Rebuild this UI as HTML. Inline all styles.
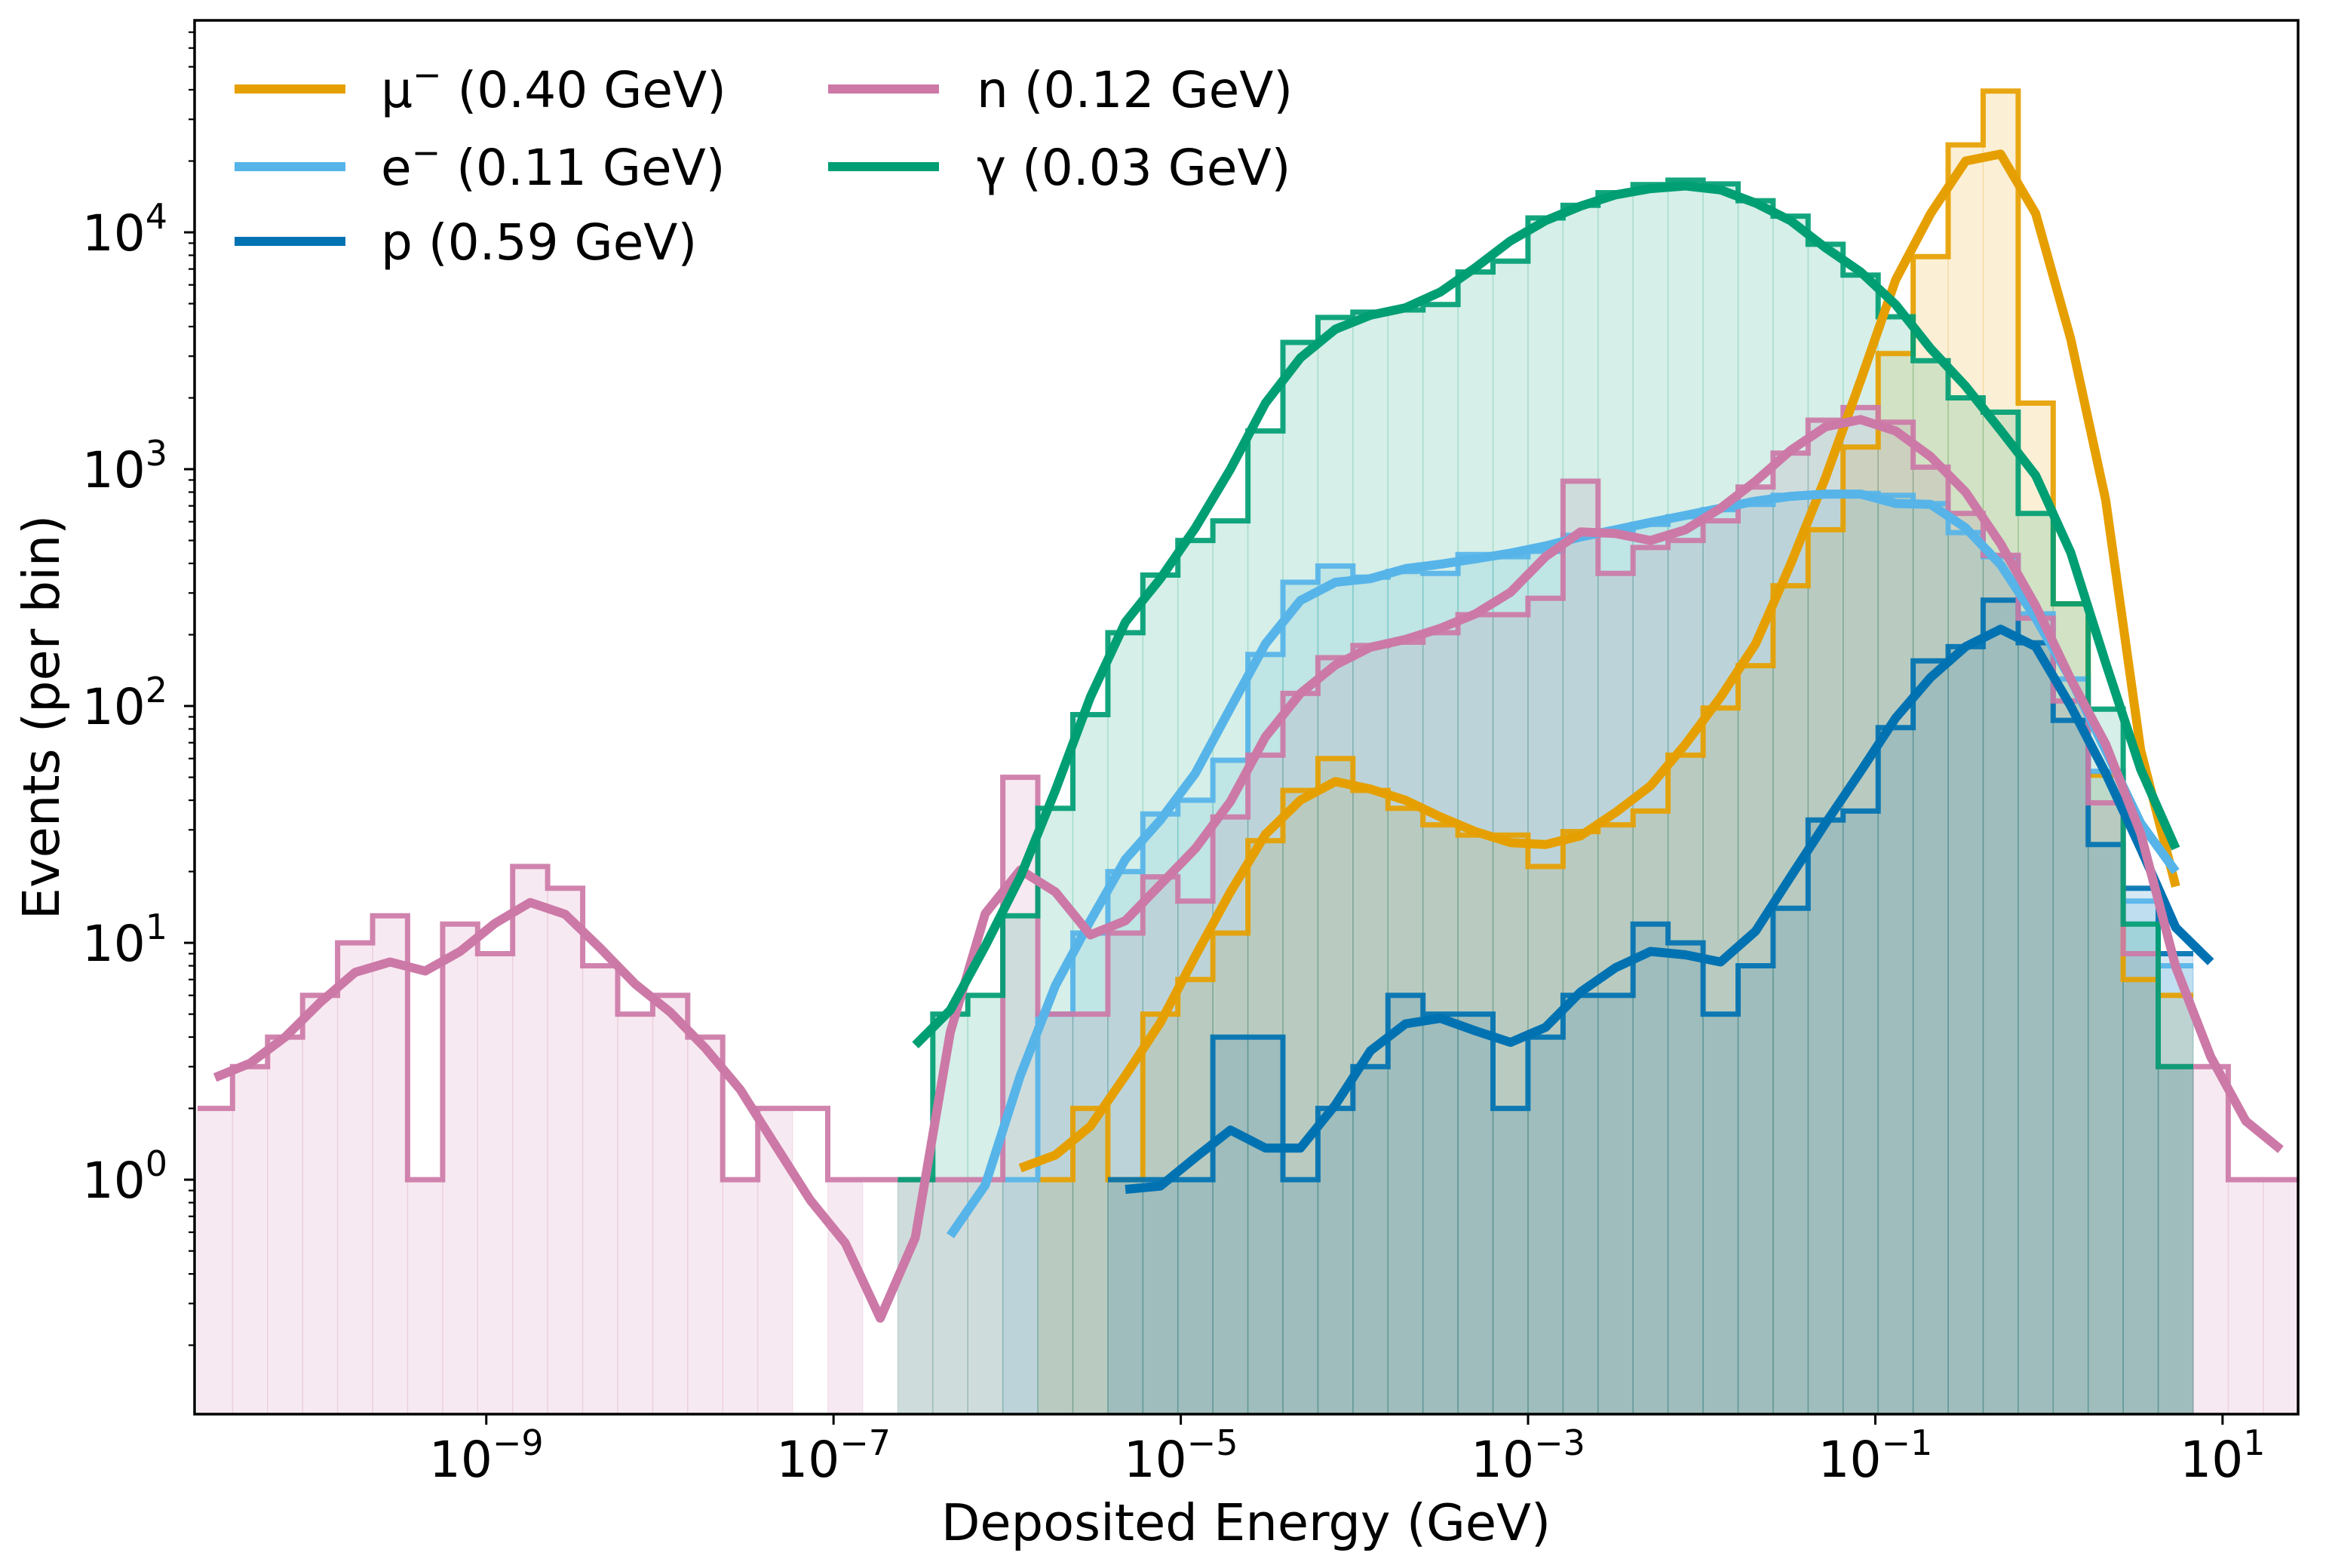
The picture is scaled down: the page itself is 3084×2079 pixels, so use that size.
<!DOCTYPE html>
<html><head><meta charset="utf-8"><style>
html,body{margin:0;padding:0;background:#fff;}
svg{display:block;font-family:"DejaVu Sans","Liberation Sans",sans-serif;}
</style></head><body>
<svg id="chart" width="3084" height="2079" viewBox="0 0 3084 2079" xmlns="http://www.w3.org/2000/svg">
<defs><clipPath id="plotclip"><rect x="258" y="27" width="2789" height="1848"/></clipPath></defs>
<rect x="0" y="0" width="3084" height="2079" fill="#fff"/>
<g id="fills" clip-path="url(#plotclip)"></g>
<g id="outlines" clip-path="url(#plotclip)"></g>
<g id="lines" clip-path="url(#plotclip)"></g>
<g id="axes"></g>
<g id="legend">
  <g>
    <line x1="311" y1="118" x2="458" y2="118" stroke="#E69F00" stroke-width="12"/>
    <text x="505" y="142" font-size="66">μ<tspan font-size="46" dy="-27">−</tspan><tspan dy="27"> (0.40 GeV)</tspan></text>
  </g>
  <g>
    <line x1="311" y1="221" x2="458" y2="221" stroke="#56B4E9" stroke-width="12"/>
    <text x="505" y="245" font-size="66">e<tspan font-size="46" dy="-27">−</tspan><tspan dy="27"> (0.11 GeV)</tspan></text>
  </g>
  <g>
    <line x1="311" y1="320" x2="458" y2="320" stroke="#0072B2" stroke-width="12"/>
    <text x="505" y="344" font-size="66">p (0.59 GeV)</text>
  </g>
  <g>
    <line x1="1098" y1="118" x2="1245" y2="118" stroke="#CC79A7" stroke-width="12"/>
    <text x="1295" y="142" font-size="66">n (0.12 GeV)</text>
  </g>
  <g>
    <line x1="1098" y1="221" x2="1245" y2="221" stroke="#009E73" stroke-width="12"/>
    <text x="1295" y="245" font-size="66">γ (0.03 GeV)</text>
  </g>
</g>
</svg>
<script>
// ---- data ----
const binStartLog = -10.663;
const binWidthLog = 0.20165;
const xTickExps = [-9, -7, -5, -3, -1, 1];
const yTickExps = [0, 1, 2, 3, 4];

const seriesNames = ["mu", "e", "p", "n", "gamma"];
const muFirstBin = 24;
const muCounts = [1,2,1,5,7,11,27,44,60,44,37,31.5,28.5,28.5,21,29.5,31.5,36,62,98,148,322,555,1240,3080,7900,23400,39500,1900,270,51,7,6];
const eFirstBin = 23;
const eCounts = [1,5,11,20,35,40,59,165,333,390,350,370,363,436,427,450,525,545,585,630,675,710,775,790,790,775,715,540,427,245,130,53,15,8];
const pFirstBin = 26;
const pCounts = [1,1,1,4,4,1,2,3,6,5,5,2,4,6,6,12,10,5,8,14,33,36,81,155,178,280,185,87,26,17,9];
const nFirstBin = 0;
const nCounts = [2,3,4,6,10,13,1,12,9,21,17,8,5,6,4,1,2,2,1,1,1,1,1,50,5,5,11,19,15,34,62,113,160,180,186,204,243,243,285,890,363,467,500,605,840,1170,1610,1820,1580,1020,650,433,235,105,39,9,3,3,1,1];
const nNoFillBins = [17, 19];
const gammaFirstBin = 20;
const gammaCounts = [1,5,6,13,37,92,204,357,500,605,1450,3430,4370,4600,4700,4960,6800,7560,11500,13000,14700,15900,16600,16000,13600,11700,8900,6600,4400,2870,2000,1740,650,270,97,12,3];

const muLineFirst = 23;
const muLine = [1.12,1.27,1.68,2.75,4.6,8.8,16.4,28.7,40,48,44.6,40,34,29.5,26.5,26,28.3,35.5,46,69,109,183,397,922,2370,6300,12000,20000,21400,12000,3550,740,65,17.3];
const eLineFirst = 21;
const eLine = [0.58,0.95,2.75,6.6,12.4,22.5,33,52,98,183,279,333,345,380,397,418,442,474,517,555,596,638,684,733,768,785,785,716,710,565,395,235,130,65,32,20];
const pLineFirst = 26;
const pLine = [0.91,0.94,1.24,1.62,1.36,1.36,2.07,3.5,4.55,4.8,4.25,3.8,4.4,6.2,7.85,9.2,8.9,8.3,11.2,19,32,53,89,132,178,211,178,100,52,25,11.6,8.3];
const nLineFirst = 0;
const nLine = [2.7,3.1,4.0,5.6,7.5,8.3,7.6,9.2,12.1,14.8,13.2,9.5,6.7,5.1,3.6,2.4,1.4,0.82,0.54,0.26,0.57,4.2,13.3,20.3,16.4,10.8,12.4,17.6,25,39.5,74,113,149,177,191,213,245,302,427,543,535,500,555,684,890,1200,1510,1620,1450,1130,800,484,265,130,69,29,7.9,3.3,1.77,1.34];
const gammaLineFirst = 20;
const gammaLine = [3.7,5.2,9.7,19,44,109,226,345,565,1000,1900,2950,3900,4470,4800,5600,7100,9200,11200,12900,14400,15300,15700,15100,13300,11200,8600,6800,4950,3230,2240,1460,940,445,152,54,25];

// ---- scales ----
const PL = 258, PR = 3047, PT = 27, PB = 1875;
const XMIN = -10.68, XMAX = 1.435, YMIN = -0.99, YMAX = 4.895;
function xs(logv){ return PL + (logv - XMIN) / (XMAX - XMIN) * (PR - PL); }
function ys(v){ return PB - (Math.log10(v) - YMIN) / (YMAX - YMIN) * (PB - PT); }
function edge(i){ return binStartLog + i * binWidthLog; }
function center(i){ return binStartLog + (i + 0.5) * binWidthLog; }

const NS = "http://www.w3.org/2000/svg";
function mk(tag, attrs, parent){
  const el = document.createElementNS(NS, tag);
  for (const k in attrs) el.setAttribute(k, attrs[k]);
  parent.appendChild(el);
  return el;
}
const colors = {mu:"#E69F00", e:"#56B4E9", p:"#0072B2", n:"#CC79A7", gamma:"#009E73"};
const hists = {
  mu:[muFirstBin, muCounts], e:[eFirstBin, eCounts], p:[pFirstBin, pCounts],
  n:[nFirstBin, nCounts], gamma:[gammaFirstBin, gammaCounts]
};
const noFill = {mu:[], e:[], p:[], n:nNoFillBins, gamma:[]};
const lineData = {
  mu:[muLineFirst, muLine], e:[eLineFirst, eLine], p:[pLineFirst, pLine],
  n:[nLineFirst, nLine], gamma:[gammaLineFirst, gammaLine]
};

const gF = document.getElementById("fills");
const gO = document.getElementById("outlines");
const gL = document.getElementById("lines");

seriesNames.forEach(function(s){
  const first = hists[s][0], counts = hists[s][1];
  counts.forEach(function(c, k){
    const i = first + k;
    if (noFill[s].indexOf(i) >= 0) return;
    const x0 = xs(edge(i)), x1 = xs(edge(i + 1));
    const y = ys(c);
    const r = mk("rect", {x:x0, y:y, width:x1 - x0, height:PB - y, fill:colors[s], "fill-opacity":0.16, stroke:colors[s], "stroke-opacity":0.12, "stroke-width":1.5}, gF);
    
    
  });
  let d = "";
  counts.forEach(function(c, k){
    const i = first + k;
    const x0 = xs(edge(i)), x1 = xs(edge(i + 1)), y = ys(Math.max(c, 1));
    d += (k === 0 ? "M" : "L") + x0.toFixed(1) + " " + y.toFixed(1) + " L" + x1.toFixed(1) + " " + y.toFixed(1) + " ";
  });
  const o = mk("path", {d:d, fill:"none", stroke:colors[s], "stroke-opacity":0.92, "stroke-width":7, "stroke-linejoin":"miter"}, gO);
  
  
});

seriesNames.forEach(function(s){
  const first = lineData[s][0], vals = lineData[s][1];
  const pts = vals.map(function(v, k){ return xs(center(first + k)).toFixed(1) + "," + ys(v).toFixed(1); });
  const l = mk("polyline", {points:pts.join(" "), fill:"none", stroke:colors[s], "stroke-width":12, "stroke-linejoin":"round"}, gL);
  
  
});

// ---- axes ----
const gA = document.getElementById("axes");
const frame = mk("rect", {x:PL, y:PT, width:PR - PL, height:PB - PT, fill:"none", stroke:"#000", "stroke-width":3.5}, gA);



xTickExps.forEach(function(e){
  const x = xs(e);
  const t = mk("line", {x1:x, y1:PB, x2:x, y2:PB + 14, stroke:"#000", "stroke-width":3}, gA);
  
  
  const tx = mk("text", {x:x, y:1958, "font-size":66, "text-anchor":"middle"}, gA);
  
  
  const a = mk("tspan", {}, tx); a.textContent = "10";
  const b = mk("tspan", {"font-size":46, dy:-29}, tx); b.textContent = (e < 0 ? "−" : "") + Math.abs(e);
});

for (let d = -1; d <= 4; d++){
  for (let m = 1; m <= 9; m++){
    const v = m * Math.pow(10, d);
    const lg = Math.log10(v);
    if (lg < YMIN || lg > YMAX) continue;
    const y = ys(v);
    const major = (m === 1);
    const t = mk("line", {x1:PL - (major ? 14 : 8), y1:y, x2:PL, y2:y, stroke:"#000", "stroke-width":major ? 3 : 2.2}, gA);
    
    
  }
}
yTickExps.forEach(function(e){
  const y = ys(Math.pow(10, e));
  const tx = mk("text", {x:222, y:y + 24, "font-size":66, "text-anchor":"end"}, gA);
  
  
  const a = mk("tspan", {}, tx); a.textContent = "10";
  const b = mk("tspan", {"font-size":46, dy:-29}, tx); b.textContent = String(e);
});

const xl = mk("text", {x:1652, y:2042, "font-size":67, "text-anchor":"middle"}, gA);
xl.textContent = "Deposited Energy (GeV)";


const yl = mk("text", {x:0, y:0, "font-size":67, "text-anchor":"middle", transform:"translate(78,951) rotate(-90)"}, gA);
yl.textContent = "Events (per bin)";


</script>
</body></html>
